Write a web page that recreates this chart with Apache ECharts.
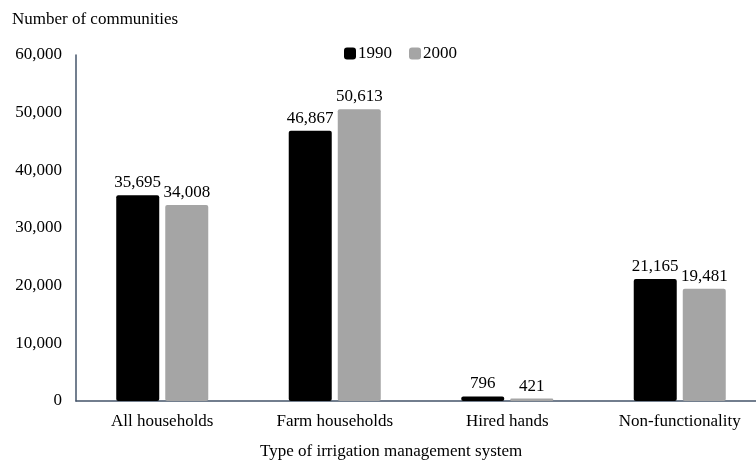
<!DOCTYPE html>
<html>
<head>
<meta charset="utf-8">
<script src="https://cdn.jsdelivr.net/npm/echarts@6/dist/echarts.min.js"></script>
<style>
  html, body { margin: 0; padding: 0; background: #fff; }
  #chart { width: 756px; height: 463px; }
</style>
</head>
<body>
<div id="chart"></div>
<script>
// Irrigation management systems by number of communities
const categories = ['All households', 'Farm households', 'Hired hands', 'Non-functionality'];
const values1990 = [35695, 46867, 796, 21165];
const values2000 = [34008, 50613, 421, 19481];
const seriesNames = ['1990', '2000'];
const yTicks = { min: 0, max: 60000, interval: 10000 };

const FONT = '"Liberation Serif", "Times New Roman", serif';
const chart = echarts.init(document.getElementById('chart'));

const fmt = v => v.toLocaleString('en-US');

const barLabel = {
  show: true,
  position: 'top',
  distance: 4,
  color: '#000',
  fontFamily: FONT,
  fontSize: 17,
  formatter: p => fmt(p.value)
};

chart.setOption({
  animation: false,
  backgroundColor: '#fff',
  textStyle: { fontFamily: FONT },
  // the plot runs a little past the right edge of the canvas
  grid: { left: 76, width: 690, top: 55, bottom: 62, containLabel: false, outerBoundsMode: 'none' },
  legend: {
    top: 40,
    left: 339,
    itemWidth: 12,
    itemHeight: 12,
    itemGap: 17,
    icon: 'roundRect',
    textStyle: { fontFamily: FONT, fontSize: 17, color: '#000', padding: [0, 0, 0, -3] },
    data: seriesNames
  },
  xAxis: {
    type: 'category',
    data: categories,
    axisLine: { show: true, lineStyle: { color: '#44546A', width: 1.5 } },
    axisTick: { show: false },
    axisLabel: { color: '#000', fontFamily: FONT, fontSize: 17, margin: 12 }
  },
  yAxis: {
    type: 'value',
    min: yTicks.min,
    max: yTicks.max,
    interval: yTicks.interval,
    axisLine: { show: true, lineStyle: { color: '#44546A', width: 1.5 } },
    axisTick: { show: false },
    splitLine: { show: false },
    axisLabel: { color: '#000', fontFamily: FONT, fontSize: 17, margin: 14, formatter: v => fmt(v) }
  },
  graphic: [
    { type: 'text', left: 12, top: 11,
      style: { text: 'Number of communities', font: '17px ' + FONT, fill: '#000' } },
    { type: 'text', left: 260, top: 443,
      style: { text: 'Type of irrigation management system', font: '17px ' + FONT, fill: '#000' } }
  ],
  series: [
    {
      name: seriesNames[0], type: 'bar', data: values1990,
      barWidth: 43, barGap: '14%',
      itemStyle: { color: '#000000', borderRadius: 2 },
      label: barLabel
    },
    {
      name: seriesNames[1], type: 'bar', data: values2000,
      barWidth: 43,
      itemStyle: { color: '#A5A5A5', borderRadius: 2 },
      label: barLabel
    }
  ]
});
</script>
</body>
</html>
